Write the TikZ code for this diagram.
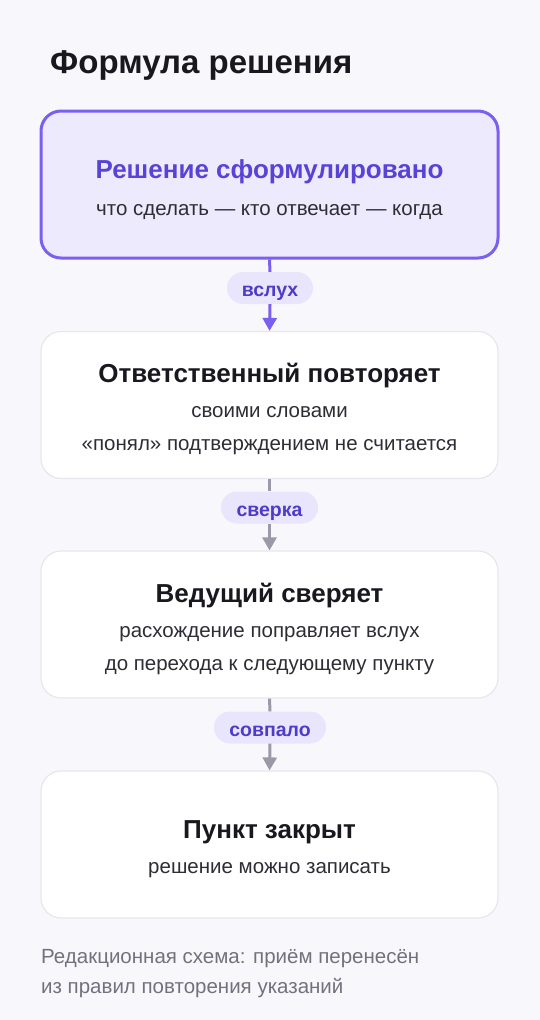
\documentclass[tikz,border=0pt]{standalone}
\usepackage{fontspec}
\setmainfont{Liberation Sans}
\usetikzlibrary{arrows.meta}
\definecolor{bg}{HTML}{F8F8FC}
\definecolor{accent}{HTML}{7B5FEE}
\definecolor{accfill}{HTML}{EEEAFE}
\definecolor{acctext}{HTML}{5843D6}
\definecolor{pillfill}{HTML}{E9E5FD}
\definecolor{pilltext}{HTML}{4E3BC8}
\definecolor{boxline}{HTML}{E6E6EE}
\definecolor{arrgray}{HTML}{9B99A8}
\definecolor{ink}{HTML}{18181E}
\definecolor{body}{HTML}{2D2D36}
\definecolor{foot}{HTML}{72727E}
\tikzset{
  card/.style={rectangle, rounded corners=20pt, minimum width=457pt, minimum height=147pt, draw=boxline, line width=1.2pt, fill=white, inner sep=0pt},
  hicard/.style={card, draw=accent, line width=3pt, fill=accfill},
  ttl/.style={anchor=base, inner sep=0pt, font=\fontsize{26}{31}\selectfont\bfseries, text=ink},
  hittl/.style={ttl, text=acctext},
  sub/.style={anchor=base, inner sep=0pt, font=\fontsize{20.5}{24}\selectfont, text=body},
  pill/.style={rectangle, rounded corners=16pt, fill=pillfill, minimum height=32pt, inner sep=0pt, text height=17pt, text depth=0pt, font=\fontsize{19.5}{23}\selectfont\bfseries, text=pilltext},
  foottext/.style={anchor=base west, inner sep=0pt, font=\fontsize{20.5}{24}\selectfont, text=foot},
  linkp/.style={draw=accent, line width=3pt},
  linkg/.style={draw=arrgray, line width=3pt},
  tipp/.style={-{Triangle[width=14pt,length=13pt]}},
}
\begin{document}
\begin{tikzpicture}[x=1pt,y=-1pt]
\fill[bg] (0,0) rectangle (540,1020);
\useasboundingbox (0,0) rectangle (540,1020);

\node[anchor=base west, inner sep=0pt, font=\fontsize{33}{38}\selectfont\bfseries, text=ink] (title) at (50,73) {Формула решения};

% cards
\node[hicard] (b1) at (269.5,184.5) {};
\node[card] (b2) at (269.5,405) {};
\node[card] (b3) at (269.5,624.5) {};
\node[card] (b4) at (269.5,844.5) {};

% pills
\node[pill, minimum width=86pt] (p1) at (270,288) {вслух};
\node[pill, minimum width=97pt] (p2) at (269.5,507.5) {сверка};
\node[pill, minimum width=112pt] (p3) at (270,727.5) {совпало};

% connectors
\draw[linkp] (b1.south) -- (p1.north);
\draw[linkp, tipp] (p1.south) -- (b2.north);
\draw[linkg] (b2.south) -- (p2.north);
\draw[linkg, tipp] (p2.south) -- (b3.north);
\draw[linkg] (b3.south) -- (p3.north);
\draw[linkg, tipp] (p3.south) -- (b4.north);

% card 1 text
\node[hittl] (t1) at (269.5,178) {Решение сформулировано};
\node[sub] (s1) at (269.5,215) {что сделать — кто отвечает — когда};

% card 2 text
\node[ttl] (t2) at (269.5,382) {Ответственный повторяет};
\node[sub] (s2a) at (269.5,417) {своими словами};
\node[sub] (s2b) at (269.5,450) {«понял» подтверждением не считается};

% card 3 text
\node[ttl] (t3) at (269.5,602) {Ведущий сверяет};
\node[sub] (s3a) at (269.5,637) {расхождение поправляет вслух};
\node[sub] (s3b) at (269.5,670) {до перехода к следующему пункту};

% card 4 text
\node[ttl] (t4) at (269.5,838) {Пункт закрыт};
\node[sub] (s4) at (269.5,873) {решение можно записать};

% footer
\node[foottext] (f1) at (41,963) {Редакционная схема: приём перенесён};
\node[foottext] (f2) at (41,993) {из правил повторения указаний};
\end{tikzpicture}
\end{document}
